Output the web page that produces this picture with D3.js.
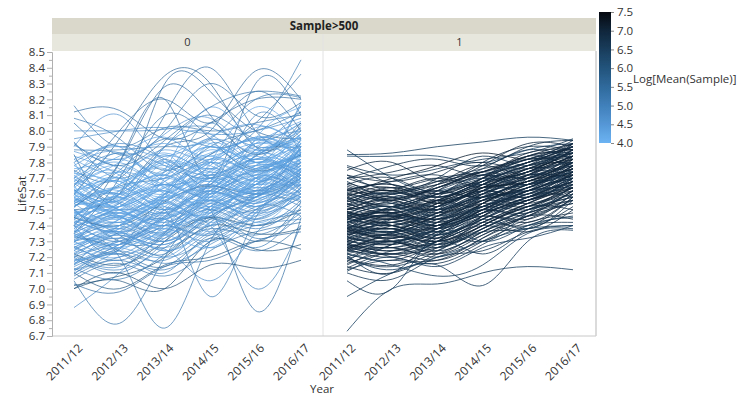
<!DOCTYPE html>
<html><head><meta charset="utf-8">
<script src="https://cdn.jsdelivr.net/npm/d3@7"></script>
<style>
body{margin:0;background:#fff;}
svg text{font-family:"Open Sans","Noto Sans",sans-serif;}
</style></head>
<body><svg id="c" width="750" height="399"></svg>
<script>
const years = ["2011/12","2012/13","2013/14","2014/15","2015/16","2016/17"];
const facetLabels = ["0","1"];
const yTicks = [6.7,6.8,6.9,7.0,7.1,7.2,7.3,7.4,7.5,7.6,7.7,7.8,7.9,8.0,8.1,8.2,8.3,8.4,8.5];
const legendTicks = [4.0,4.5,5.0,5.5,6.0,6.5,7.0,7.5];

// Facet 0 (Sample<=500): LifeSat per year
const lines0 = [
"8.12 8.13 7.95 8.05 8.20 8.20","8.16 7.90 8.02 8.00 8.05 8.10","8.05 7.85 8.00 8.30 8.10 8.18","7.93 7.70 7.90 8.10 7.95 8.05",
"7.90 8.10 7.80 7.85 7.95 8.00","7.85 7.60 8.30 8.25 8.00 7.95","7.60 7.95 8.35 8.30 7.90 8.00","7.75 7.70 8.10 8.40 8.00 7.90",
"7.50 7.60 7.90 8.00 8.38 8.20","7.55 7.75 7.95 7.90 8.00 8.45","7.45 7.65 7.70 7.85 8.05 8.36","7.40 7.80 8.20 7.70 8.30 8.10",
"7.80 7.50 7.75 8.15 7.90 7.75","7.70 7.90 7.60 7.80 8.15 7.95","7.65 7.55 7.85 7.60 7.95 8.15","7.60 7.45 7.70 7.95 7.80 7.85",
"7.55 7.70 7.50 7.75 7.90 8.05","7.50 7.35 7.60 7.90 7.70 7.80","7.45 7.60 7.80 7.55 7.85 7.90","7.40 7.55 7.45 7.70 7.60 7.95",
"7.35 7.50 7.65 7.80 7.95 7.75","7.30 7.45 7.35 7.60 7.75 7.85","7.25 7.40 7.55 7.45 7.70 7.60","7.20 7.30 7.45 7.65 7.55 7.70",
"7.15 7.35 7.30 7.50 7.70 7.65","7.10 7.25 7.40 7.35 7.60 7.80","7.05 6.78 7.20 7.45 7.30 7.55","7.30 7.20 6.75 7.30 7.50 7.60",
"7.40 7.25 7.50 6.95 7.45 7.55","7.50 7.30 7.35 7.50 6.86 7.45","7.20 7.10 7.30 7.40 7.00 7.40","6.88 7.10 7.25 7.05 7.35 7.50",
"7.00 7.10 7.00 7.15 7.13 7.18","7.00 7.05 7.00 7.30 7.25 7.28","7.10 7.00 7.15 7.20 7.30 7.25","7.02 7.08 7.20 7.40 7.35 7.38",
"7.22 7.15 7.30 7.45 7.40 7.50","7.45 7.40 7.55 7.65 7.60 7.70","7.95 8.00 8.02 7.98 8.00 8.08","8.00 8.00 8.01 8.02 7.90 7.95",
"7.88 7.88 7.90 7.95 8.20 8.21","7.62 7.68 7.58 7.72 7.66 7.78","7.58 7.50 7.64 7.70 7.82 7.74","7.52 7.62 7.48 7.66 7.74 7.88",
"7.48 7.42 7.56 7.62 7.54 7.70","7.44 7.56 7.62 7.50 7.68 7.82","7.38 7.48 7.40 7.58 7.72 7.64","7.34 7.28 7.46 7.54 7.48 7.66",
"7.28 7.40 7.52 7.40 7.58 7.72","7.24 7.34 7.28 7.48 7.62 7.56","7.18 7.26 7.38 7.30 7.50 7.62","7.14 7.22 7.18 7.36 7.44 7.58",
"7.66 7.78 7.70 7.88 7.76 7.92","7.72 7.62 7.84 7.76 7.92 7.84","7.78 7.86 7.72 7.94 7.86 7.98","7.82 7.74 7.88 7.82 8.02 7.90",
"7.56 7.66 7.78 7.68 7.84 7.96","7.60 7.52 7.68 7.84 7.74 7.86","7.46 7.58 7.46 7.64 7.80 7.72","7.42 7.52 7.66 7.56 7.66 7.80",
"7.36 7.46 7.58 7.72 7.62 7.76","7.32 7.42 7.34 7.52 7.64 7.58","7.26 7.38 7.48 7.56 7.46 7.64","7.22 7.32 7.26 7.42 7.56 7.68",
"7.16 7.28 7.40 7.34 7.52 7.46","7.12 7.20 7.32 7.46 7.38 7.54","7.08 7.18 7.12 7.30 7.42 7.48","7.70 7.56 7.80 7.70 7.62 7.76",
"7.64 7.74 7.56 7.82 7.70 7.66","7.58 7.46 7.60 7.74 7.88 7.70","7.54 7.64 7.52 7.48 7.70 7.92","7.50 7.40 7.62 7.76 7.64 7.78",
"7.46 7.54 7.42 7.60 7.76 7.84","7.42 7.30 7.48 7.66 7.52 7.74","7.38 7.50 7.36 7.48 7.66 7.86","7.34 7.44 7.56 7.42 7.58 7.68",
"7.30 7.22 7.40 7.56 7.44 7.62","7.26 7.36 7.24 7.38 7.54 7.70","7.76 7.84 7.96 7.80 7.92 8.06","7.74 7.60 7.72 7.90 7.80 7.94",
"7.68 7.80 7.66 7.78 7.96 7.84","7.62 7.72 7.86 7.74 7.84 8.00","7.57 7.48 7.58 7.70 7.58 7.72","7.53 7.60 7.72 7.60 7.78 7.68",
"7.49 7.38 7.50 7.62 7.72 7.80","7.47 7.57 7.68 7.78 7.60 7.74","7.43 7.36 7.44 7.56 7.70 7.60","7.39 7.52 7.62 7.50 7.60 7.76",
"7.35 7.28 7.42 7.64 7.50 7.64","7.31 7.40 7.30 7.46 7.58 7.72","7.27 7.18 7.34 7.50 7.40 7.56","7.23 7.36 7.48 7.36 7.50 7.66",
"7.19 7.12 7.26 7.44 7.60 7.52","7.17 7.30 7.20 7.32 7.46 7.60","7.13 7.06 7.22 7.38 7.34 7.48","7.11 7.24 7.16 7.28 7.40 7.44",
"7.06 7.16 7.08 7.24 7.36 7.42","7.03 6.98 7.14 7.18 7.30 7.36","7.84 7.72 7.60 7.76 7.68 7.82","7.80 7.92 7.82 7.72 7.88 8.12",
"7.91 7.82 7.98 8.08 7.88 8.02","7.67 7.58 7.90 7.98 7.82 8.16","7.59 7.86 7.74 8.05 7.80 8.18","7.63 7.54 7.82 7.66 8.10 7.86",
"7.51 7.68 7.54 7.92 7.76 8.04","7.41 7.62 7.76 7.62 7.94 7.80","7.37 7.26 7.58 7.80 7.62 7.90","7.29 7.46 7.32 7.68 7.84 7.70",
"7.21 7.14 7.36 7.62 7.78 7.62","7.15 7.32 7.44 7.26 7.48 7.74","7.09 7.22 7.10 7.34 7.26 7.52","7.55 7.44 7.34 7.58 7.42 7.64",
"7.61 7.50 7.40 7.52 7.66 7.58","7.69 7.58 7.48 7.62 7.52 7.68","7.73 7.66 7.54 7.70 7.60 7.74","7.87 7.76 7.66 7.82 7.74 7.88",
"7.33 7.24 7.14 7.32 7.24 7.40","7.45 7.34 7.22 7.44 7.32 7.46","7.57 7.46 7.36 7.54 7.48 7.58","7.71 7.54 7.44 7.60 7.56 7.70",
"7.52 7.80 8.28 8.10 7.85 8.05","7.65 8.00 8.20 8.05 8.25 8.00","7.35 7.70 8.10 7.95 7.75 7.85","7.92 7.78 7.94 8.15 8.25 8.22",
"8.08 7.95 7.75 7.90 8.00 8.12",
"7.58 7.70 7.62 7.80 7.68 7.90","7.48 7.60 7.72 7.64 7.82 7.76","7.64 7.52 7.66 7.58 7.74 7.96","7.40 7.48 7.60 7.74 7.66 7.92",
"7.32 7.46 7.40 7.58 7.74 7.84","7.26 7.20 7.36 7.52 7.66 7.78","7.56 7.46 7.38 7.50 7.64 7.82","7.70 7.82 7.68 7.60 7.78 7.90",
"7.62 7.50 7.44 7.62 7.80 7.74","7.52 7.66 7.80 7.70 7.58 7.84","7.44 7.36 7.52 7.72 7.86 7.78","7.36 7.50 7.44 7.40 7.62 7.88",
"7.28 7.38 7.54 7.46 7.70 7.66","7.20 7.34 7.28 7.46 7.58 7.80","7.78 7.68 7.82 7.92 7.80 7.98","7.66 7.80 7.92 7.84 7.96 7.86",
"7.54 7.42 7.60 7.80 7.72 7.94","7.46 7.58 7.50 7.68 7.86 7.96","7.38 7.28 7.44 7.60 7.78 7.68","7.30 7.44 7.58 7.48 7.66 7.82",
"7.22 7.30 7.46 7.62 7.54 7.76","7.16 7.26 7.20 7.42 7.60 7.70","7.12 7.28 7.40 7.52 7.44 7.64","7.60 7.74 7.64 7.56 7.72 7.86",
"7.50 7.44 7.56 7.68 7.60 7.76","7.42 7.54 7.66 7.58 7.76 7.72","7.34 7.26 7.38 7.54 7.70 7.84","7.24 7.38 7.30 7.50 7.62 7.74",
"7.68 7.60 7.74 7.86 7.94 7.88","7.74 7.86 7.78 7.70 7.84 8.02","7.82 7.90 7.84 7.96 8.04 7.92","7.58 7.64 7.76 7.90 7.82 7.98",
"7.48 7.52 7.64 7.80 7.92 7.86","7.40 7.32 7.50 7.66 7.58 7.90","7.30 7.36 7.24 7.40 7.56 7.66","7.18 7.24 7.34 7.26 7.48 7.58",
"7.54 7.60 7.50 7.66 7.82 7.70","7.46 7.40 7.58 7.52 7.68 7.88","7.36 7.48 7.42 7.56 7.52 7.72","7.62 7.56 7.70 7.64 7.88 7.80"
];
// Log[Mean(Sample)] per line of facet 0
const logSample0 = [
5.4,5.2,5.3,5.0,4.6,5.5,5.6,5.4,5.5,5.1,5.3,5.4,4.4,4.3,4.2,4.5,4.2,4.4,4.3,4.6,
4.2,4.4,4.5,4.6,4.3,4.5,5.3,5.2,5.1,5.4,5.0,4.8,6.1,6.0,5.9,6.0,5.9,5.8,4.7,4.8,
5.1,4.2,4.3,4.4,4.2,4.3,4.5,4.6,4.2,4.4,4.6,4.8,4.3,4.4,4.5,4.4,4.2,4.1,4.3,4.4,
4.5,4.6,4.3,4.7,4.8,4.9,5.0,4.2,4.3,4.1,4.4,4.3,4.5,4.6,4.2,4.4,4.7,4.5,4.3,4.2,
4.4,4.3,4.1,4.4,4.5,4.3,4.6,4.4,4.7,4.8,5.0,4.6,4.9,4.7,5.1,4.8,5.2,5.4,4.4,4.8,
4.6,4.5,4.7,4.9,4.3,4.4,4.6,4.5,4.8,4.7,5.0,4.2,4.3,4.4,4.3,4.5,5.3,5.1,4.6,4.4,
5.5,5.4,5.3,5.2,5.1,4.2,4.3,4.1,4.4,4.3,4.5,4.2,4.4,4.3,4.2,4.4,4.5,4.3,4.6,4.2,
4.3,4.4,4.2,4.1,4.3,4.5,4.4,4.6,4.2,4.3,4.4,4.2,4.5,4.3,4.7,4.4,4.2,4.3,4.6,4.4,
4.3,4.5,4.2,4.4,4.3
];

// Facet 1 (Sample>500)
const lines1 = [
"7.85 7.86 7.90 7.93 7.96 7.94","7.84 7.84 7.84 7.80 7.88 7.92","7.88 7.70 7.62 7.72 7.80 7.90","7.78 7.72 7.76 7.82 7.86 7.95",
"7.75 7.80 7.68 7.80 7.90 7.88","7.72 7.62 7.70 7.84 7.78 7.92","7.70 7.74 7.78 7.72 7.84 7.86","7.68 7.58 7.64 7.76 7.88 7.82",
"7.66 7.70 7.60 7.70 7.80 7.90","7.64 7.56 7.66 7.78 7.72 7.84","7.62 7.66 7.58 7.68 7.82 7.78","7.60 7.52 7.62 7.74 7.70 7.86",
"7.58 7.64 7.54 7.66 7.78 7.80","7.56 7.50 7.60 7.70 7.84 7.76","7.55 7.60 7.52 7.64 7.74 7.88","7.54 7.48 7.58 7.72 7.66 7.82",
"7.52 7.58 7.50 7.62 7.76 7.74","7.51 7.46 7.56 7.68 7.80 7.84","7.50 7.56 7.48 7.60 7.70 7.80","7.49 7.44 7.54 7.66 7.62 7.78",
"7.48 7.54 7.46 7.58 7.72 7.70","7.47 7.42 7.52 7.64 7.76 7.86","7.46 7.52 7.44 7.56 7.68 7.76","7.45 7.40 7.50 7.62 7.58 7.72",
"7.44 7.50 7.42 7.54 7.66 7.80","7.43 7.38 7.48 7.60 7.72 7.68","7.42 7.48 7.40 7.52 7.64 7.74","7.41 7.36 7.46 7.58 7.56 7.70",
"7.40 7.46 7.38 7.50 7.62 7.78","7.39 7.34 7.44 7.56 7.68 7.66","7.38 7.44 7.36 7.48 7.60 7.72","7.37 7.32 7.42 7.54 7.52 7.68",
"7.36 7.42 7.34 7.46 7.58 7.64","7.35 7.30 7.40 7.52 7.64 7.76","7.34 7.40 7.32 7.44 7.56 7.62","7.33 7.28 7.38 7.50 7.48 7.66",
"7.32 7.38 7.30 7.42 7.54 7.70","7.31 7.26 7.36 7.48 7.60 7.58","7.30 7.36 7.28 7.40 7.52 7.64","7.29 7.24 7.34 7.46 7.44 7.60",
"7.28 7.34 7.26 7.38 7.50 7.56","7.27 7.22 7.32 7.44 7.56 7.68","7.26 7.32 7.24 7.36 7.48 7.54","7.25 7.20 7.30 7.42 7.40 7.58",
"7.24 7.30 7.22 7.34 7.46 7.62","7.22 7.18 7.28 7.40 7.52 7.50","7.20 7.26 7.20 7.32 7.44 7.56","7.18 7.14 7.24 7.36 7.38 7.52",
"7.16 7.22 7.18 7.30 7.42 7.48","7.14 7.10 7.22 7.34 7.46 7.44","7.12 7.18 7.16 7.28 7.40 7.42","7.10 7.06 7.20 7.24 7.36 7.40",
"6.95 7.10 7.20 7.30 7.38 7.40","7.05 7.00 7.35 7.30 7.40 7.45","6.73 7.00 7.03 7.10 7.14 7.12","7.20 7.12 7.15 7.02 7.30 7.37",
"7.22 7.15 7.08 7.15 7.35 7.38","7.72 7.68 7.74 7.80 7.76 7.88","7.67 7.62 7.68 7.74 7.84 7.92","7.63 7.68 7.72 7.66 7.76 7.84",
"7.61 7.56 7.64 7.72 7.70 7.80","7.59 7.62 7.56 7.62 7.74 7.86","7.57 7.54 7.62 7.58 7.70 7.78","7.53 7.58 7.52 7.64 7.66 7.74",
"7.52 7.48 7.56 7.60 7.72 7.82","7.50 7.52 7.48 7.56 7.64 7.70","7.48 7.46 7.52 7.62 7.60 7.76","7.46 7.48 7.44 7.54 7.68 7.72",
"7.44 7.42 7.50 7.58 7.62 7.66","7.42 7.46 7.42 7.50 7.58 7.74","7.40 7.38 7.46 7.56 7.54 7.64","7.38 7.42 7.38 7.48 7.62 7.70",
"7.36 7.34 7.42 7.52 7.50 7.62","7.34 7.38 7.34 7.44 7.58 7.68","7.32 7.30 7.38 7.50 7.46 7.60","7.30 7.34 7.30 7.42 7.54 7.66",
"7.28 7.26 7.34 7.46 7.42 7.58","7.26 7.30 7.26 7.38 7.50 7.64","7.24 7.22 7.30 7.44 7.38 7.56","7.22 7.26 7.22 7.36 7.46 7.62",
"7.55 7.62 7.70 7.64 7.72 7.84","7.45 7.52 7.62 7.70 7.66 7.80","7.35 7.44 7.54 7.62 7.74 7.72","7.25 7.36 7.46 7.56 7.64 7.78",
"7.15 7.28 7.38 7.48 7.58 7.70","7.65 7.55 7.50 7.58 7.68 7.76","7.58 7.48 7.44 7.52 7.62 7.72","7.48 7.40 7.36 7.46 7.56 7.66",
"7.38 7.30 7.28 7.40 7.52 7.60","7.28 7.20 7.18 7.32 7.46 7.54","7.77 7.66 7.58 7.68 7.78 7.86","7.50 7.60 7.66 7.74 7.82 7.90",
"7.42 7.52 7.60 7.68 7.78 7.88","7.33 7.45 7.55 7.64 7.72 7.82","7.60 7.70 7.78 7.86 7.82 7.90","7.70 7.78 7.82 7.78 7.90 7.94",
"7.47 7.56 7.50 7.66 7.74 7.92","7.37 7.50 7.40 7.60 7.66 7.84","7.27 7.40 7.32 7.54 7.62 7.76","7.17 7.30 7.24 7.46 7.56 7.68",
"7.21 7.10 7.30 7.22 7.38 7.46","7.11 7.20 7.14 7.26 7.32 7.40","7.62 7.60 7.66 7.78 7.92 7.90","7.53 7.64 7.58 7.70 7.86 7.88",
"7.43 7.36 7.52 7.66 7.80 7.86","7.39 7.48 7.56 7.52 7.70 7.84","7.31 7.40 7.48 7.60 7.58 7.74","7.23 7.32 7.40 7.50 7.62 7.64",
"7.19 7.28 7.36 7.30 7.48 7.58","7.13 7.24 7.30 7.40 7.36 7.50",
"7.58 7.52 7.60 7.68 7.74 7.88","7.50 7.56 7.62 7.58 7.72 7.84","7.44 7.40 7.48 7.60 7.70 7.80","7.36 7.44 7.40 7.54 7.66 7.76",
"7.30 7.28 7.36 7.50 7.60 7.72","7.24 7.30 7.34 7.44 7.56 7.66","7.62 7.66 7.60 7.70 7.80 7.86","7.54 7.48 7.56 7.66 7.78 7.92",
"7.46 7.52 7.46 7.58 7.66 7.74","7.40 7.36 7.44 7.52 7.62 7.70","7.34 7.38 7.32 7.46 7.58 7.68","7.28 7.24 7.30 7.42 7.52 7.62",
"7.66 7.60 7.68 7.76 7.82 7.90","7.56 7.62 7.54 7.64 7.76 7.82","7.48 7.44 7.52 7.62 7.70 7.78","7.42 7.46 7.40 7.50 7.64 7.72",
"7.38 7.32 7.40 7.48 7.56 7.64","7.32 7.36 7.28 7.38 7.50 7.60","7.26 7.22 7.26 7.36 7.48 7.56","7.52 7.58 7.64 7.72 7.80 7.94",
"7.44 7.50 7.56 7.66 7.74 7.84","7.36 7.42 7.48 7.58 7.68 7.80","7.60 7.54 7.50 7.62 7.74 7.80","7.46 7.40 7.38 7.50 7.62 7.72",
"7.70 7.64 7.70 7.74 7.82 7.92","7.57 7.61 7.58 7.68 7.78 7.86","7.49 7.45 7.54 7.64 7.68 7.82","7.41 7.47 7.44 7.56 7.64 7.78",
"7.33 7.29 7.38 7.48 7.58 7.70","7.25 7.33 7.30 7.40 7.54 7.64","7.19 7.15 7.26 7.38 7.50 7.58","7.45 7.51 7.60 7.70 7.76 7.90",
"7.63 7.57 7.64 7.74 7.84 7.88","7.39 7.35 7.46 7.54 7.66 7.74","7.29 7.35 7.42 7.52 7.60 7.68"
];
const logSample1 = [
6.4,6.3,6.4,6.6,6.8,6.7,6.9,6.6,6.8,7.0,6.7,6.9,7.1,6.8,6.7,6.9,7.0,6.8,7.2,6.9,
6.7,7.0,6.8,6.9,7.1,6.8,6.7,6.9,7.0,6.8,6.9,7.1,6.7,6.8,7.0,6.9,6.8,6.7,6.9,7.0,
6.8,6.9,6.7,6.8,7.0,6.9,6.8,6.7,6.9,6.8,6.7,6.6,6.4,6.5,6.4,6.5,6.4,6.9,7.0,6.8,
6.9,7.1,6.8,6.9,7.0,6.8,6.9,7.2,6.8,6.9,7.0,6.8,6.9,6.7,6.8,7.0,6.9,6.8,6.7,6.9,
7.0,6.8,6.9,7.1,6.8,6.9,6.7,6.8,7.0,6.9,6.8,7.0,6.9,6.8,7.1,6.7,6.9,6.8,6.7,6.9,
6.6,6.5,6.9,7.0,6.8,6.9,7.0,6.8,6.7,6.8,6.9,7.0,6.8,7.1,6.9,6.8,7.0,6.9,6.7,6.8,
7.0,6.9,6.8,7.1,6.9,6.8,7.0,6.7,6.9,6.8,7.0,6.9,6.8,7.0,6.9,6.8,7.1,6.9,6.8,7.0,
6.9,6.8,7.0,6.9,6.8
];

const svg = d3.select("#c");
const y = d3.scaleLinear().domain([6.7,8.5]).range([336,52]);
const panels = [
  {x0:52, x1:323, lines:lines0, logs:logSample0, label:facetLabels[0], xr:[74,301], op:0.7},
  {x0:323, x1:596, lines:lines1, logs:logSample1, label:facetLabels[1], xr:[347,573], op:0.8}
];
const color = d3.scaleLinear().domain([4.0,4.5,5.0,5.5,6.0,6.5,7.0,7.5])
  .range(["#6cb3f3","#5597d6","#4080ba","#306a9c","#22547c","#193d5c","#10263b","#05080e"])
  .interpolate(d3.interpolateRgb);

// header bands
svg.append("rect").attr("x",52).attr("y",18).attr("width",544).attr("height",16).attr("fill","#dad8ca");
svg.append("rect").attr("x",52).attr("y",34).attr("width",544).attr("height",17).attr("fill","#e8e7de");
svg.append("text").attr("x",324).attr("y",30).attr("text-anchor","middle").attr("font-size",11.5)
  .attr("font-weight","bold").attr("fill","#222").text("Sample>500");

const line = d3.line().curve(d3.curveNatural);
panels.forEach(p=>{
  const x = d3.scalePoint().domain(years).range(p.xr);
  svg.append("text").attr("x",(p.x0+p.x1)/2).attr("y",46).attr("text-anchor","middle")
    .attr("font-size",11).attr("fill","#333").text(p.label);
  const g = svg.append("g");
  const clipId = "clip"+p.label;
  svg.append("clipPath").attr("id",clipId).append("rect")
    .attr("x",p.x0).attr("y",51).attr("width",p.x1-p.x0).attr("height",285);
  g.attr("clip-path",`url(#${clipId})`);
  p.lines.forEach((s,i)=>{
    const vals = s.split(" ").map(Number);
    const lv = p.logs[i] !== undefined ? p.logs[i] : p.logs[i % p.logs.length];
    g.append("path")
      .attr("d", line(vals.map((v,j)=>[x(years[j]), y(v)])))
      .attr("fill","none").attr("stroke",color(lv))
      .attr("stroke-width",1).attr("stroke-opacity",p.op);
  });
  const ax = svg.append("g").attr("transform","translate(0,336)")
    .call(d3.axisBottom(x).tickSize(0).tickPadding(0));
  ax.select(".domain").remove();
  ax.selectAll("text").attr("font-size",12).attr("fill","#333")
    .attr("text-anchor","end").attr("dy","0.35em")
    .attr("transform","translate(6,10) rotate(-45)").attr("x",0).attr("y",0);
});
// panel separators and frame
svg.append("line").attr("x1",323).attr("x2",323).attr("y1",34).attr("y2",336).attr("stroke","#e2e2e2");
svg.append("line").attr("x1",52).attr("x2",596).attr("y1",336).attr("y2",336).attr("stroke","#c8c8c8");
svg.append("line").attr("x1",596).attr("x2",596).attr("y1",51).attr("y2",336).attr("stroke","#cfcfcf").attr("stroke-width",1.5);

// y axis
const yAx = svg.append("g").attr("transform","translate(52,0)")
  .call(d3.axisLeft(y).tickValues(yTicks).tickFormat(d3.format(".1f")).tickSize(5).tickPadding(2));
yAx.select(".domain").attr("stroke","#b0b0b0");
yAx.selectAll(".tick line").attr("stroke","#b0b0b0");
yAx.selectAll("text").attr("font-size",11.5).attr("fill","#333");
const minor = yTicks.slice(0,-1).map(v=>v+0.05);
svg.append("g").attr("transform","translate(52,0)")
  .call(d3.axisLeft(y).tickValues(minor).tickFormat("").tickSize(3))
  .call(g=>{g.select(".domain").remove(); g.selectAll("line").attr("stroke","#b0b0b0");});

svg.append("text").attr("transform","translate(26,194) rotate(-90)").attr("text-anchor","middle")
  .attr("font-size",11.5).attr("fill","#333").text("LifeSat");
svg.append("text").attr("x",322).attr("y",393).attr("text-anchor","middle")
  .attr("font-size",11.5).attr("fill","#333").text("Year");

// legend
const defs = svg.append("defs");
const grad = defs.append("linearGradient").attr("id","lg").attr("x1",0).attr("x2",0).attr("y1",1).attr("y2",0);
legendTicks.forEach(v=>grad.append("stop").attr("offset",(v-4)/3.5).attr("stop-color",color(v)));
const ly = d3.scaleLinear().domain([4.0,7.5]).range([143,12]);
svg.append("rect").attr("x",599).attr("y",12).attr("width",12).attr("height",131).attr("fill","url(#lg)");
const lAx = svg.append("g").attr("transform","translate(611,0)")
  .call(d3.axisRight(ly).tickValues(legendTicks).tickFormat(d3.format(".1f")).tickSize(3).tickPadding(3));
lAx.select(".domain").remove();
lAx.selectAll("line").attr("stroke","#888");
lAx.selectAll("text").attr("font-size",11.5).attr("fill","#333");
svg.append("text").attr("x",633).attr("y",83).attr("font-size",11.5).attr("fill","#333").text("Log[Mean(Sample)]");
</script></body></html>
